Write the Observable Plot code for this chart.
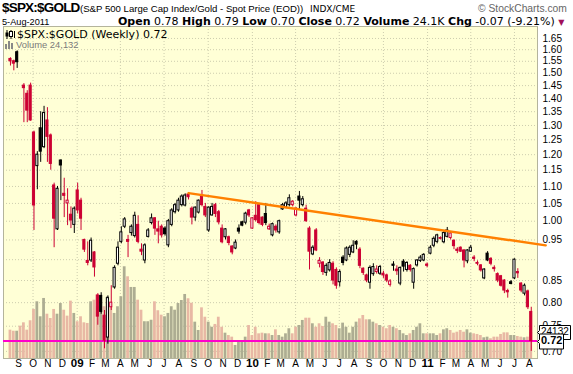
<!DOCTYPE html>
<html><head><meta charset="utf-8">
<script src="https://cdn.jsdelivr.net/npm/d3@7"></script>
<script src="https://cdn.jsdelivr.net/npm/@observablehq/plot@0.6"></script>
<style>
html,body{margin:0;padding:0;background:#fff;}
#wrap{position:relative;width:573px;height:374px;overflow:hidden;font-family:"Liberation Sans",Arial,sans-serif;color:#000;}
#wrap > svg{position:absolute;left:0;top:0;}
.t{position:absolute;white-space:nowrap;line-height:1;}
.dv{font-family:"DejaVu Sans",Verdana,sans-serif;}
</style></head>
<body><div id="wrap"></div>
<script>
// ---- data (weekly, first week ending 2008-08-15) ----
const startFriday = "2008-08-15";
const opens = [1.560,1.550,1.589,null,1.450,1.418,1.450,1.275,1.163,1.290,
1.225,1.318,1.265,1.103,0.978,1.181,1.078,1.050,1.018,0.990,
1.088,1.058,0.950,0.897,0.898,0.918,0.816,0.815,0.772,0.727,
0.790,0.834,0.890,0.945,0.985,0.950,0.968,0.960,0.990,0.925,
0.898,0.958,0.995,1.008,0.978,0.985,0.980,0.936,0.990,1.025,
1.030,1.045,1.044,1.076,1.035,1.010,1.024,1.070,1.040,0.975,
1.016,1.045,1.025,0.980,0.957,0.957,0.933,0.928,0.980,0.997,
0.996,1.030,0.980,1.015,1.045,1.010,1.020,0.978,0.962,0.985,
0.970,1.033,1.038,1.045,1.045,1.016,1.070,1.045,1.035,0.980,
0.913,0.975,0.890,0.893,0.868,0.874,0.890,0.875,0.846,0.905,
0.898,0.912,0.918,0.945,0.925,0.878,0.862,0.845,0.865,0.870,
0.866,0.866,0.862,0.840,0.888,0.876,0.843,0.895,0.875,0.885,
0.845,0.886,0.897,0.898,0.888,0.915,0.935,0.945,0.955,0.944,
0.958,0.955,0.948,0.925,0.930,0.923,0.896,0.920,0.905,0.892,
0.886,0.855,0.915,0.902,0.880,0.865,0.860,0.850,0.826,0.846,
0.855,0.870,0.843,0.820,0.825,0.780];
const highs = [1.565,1.555,1.595,null,1.458,1.430,1.460,1.280,1.210,1.350,
1.370,1.365,1.270,1.110,1.100,1.183,1.125,1.093,1.040,1.040,
1.110,1.065,0.952,0.945,0.955,0.920,0.820,0.822,0.783,0.815,
0.838,0.885,0.945,0.985,1.010,0.962,0.990,1.025,1.015,0.940,
0.940,0.980,1.020,1.010,1.000,0.990,0.985,1.005,1.035,1.050,
1.065,1.075,1.078,1.082,1.040,1.040,1.060,1.088,1.050,1.040,
1.050,1.050,1.030,0.990,0.980,0.960,0.935,0.950,0.990,1.000,
1.025,1.033,1.010,1.055,1.050,1.012,1.050,0.992,0.995,0.990,
1.003,1.050,1.055,1.075,1.058,1.038,1.085,1.070,1.045,0.985,
0.935,0.980,0.905,0.895,0.890,0.900,0.895,0.880,0.875,0.910,
0.932,0.935,0.948,0.948,0.930,0.880,0.865,0.885,0.890,0.885,
0.886,0.872,0.865,0.852,0.895,0.885,0.882,0.900,0.895,0.888,
0.880,0.900,0.910,0.915,0.892,0.935,0.958,0.965,0.958,0.972,
0.983,0.970,0.950,0.930,0.932,0.925,0.925,0.936,0.910,0.897,
0.888,0.878,0.920,0.905,0.885,0.868,0.862,0.852,0.830,0.850,
0.902,0.878,0.845,0.842,0.828,0.790];
const lows = [1.530,1.510,1.520,null,1.310,1.310,1.315,0.975,1.090,1.175,
1.220,1.175,1.150,0.930,0.975,1.058,1.010,0.988,0.980,0.967,
1.020,0.975,0.918,0.885,0.893,0.858,0.752,0.775,0.705,0.714,
0.783,0.830,0.885,0.940,0.980,0.905,0.960,0.955,0.940,0.910,
0.890,0.955,0.990,0.962,0.940,0.955,0.960,0.930,0.985,1.020,
1.025,1.040,1.040,1.060,0.990,1.000,1.020,1.040,1.010,0.970,
1.014,1.010,0.990,0.940,0.950,0.935,0.912,0.925,0.965,0.985,
0.990,1.010,0.978,0.998,0.990,0.985,0.988,0.975,0.958,0.968,
0.965,1.030,1.035,1.040,1.040,1.012,1.030,1.040,0.997,0.875,
0.910,0.920,0.880,0.862,0.860,0.870,0.840,0.830,0.835,0.885,
0.895,0.905,0.915,0.925,0.878,0.862,0.845,0.830,0.860,0.865,
0.862,0.855,0.845,0.835,0.872,0.862,0.838,0.870,0.870,0.870,
0.830,0.882,0.893,0.895,0.880,0.912,0.930,0.940,0.950,0.940,
0.955,0.950,0.925,0.915,0.918,0.880,0.890,0.918,0.895,0.885,
0.870,0.852,0.895,0.885,0.870,0.845,0.835,0.820,0.810,0.840,
0.852,0.855,0.822,0.815,0.785,0.700];
const closes = [1.550,1.540,1.546,null,1.440,1.354,1.318,1.044,1.200,1.210,
1.345,1.260,1.170,1.007,1.093,1.165,1.072,1.058,1.002,1.035,
1.030,1.007,0.925,0.892,0.948,0.881,0.770,0.780,0.721,0.810,
0.800,0.880,0.930,0.970,1.005,0.945,0.985,1.015,0.945,0.920,
0.936,0.975,1.008,0.980,0.972,0.962,0.965,1.000,1.030,1.045,
1.058,1.070,1.073,1.068,1.010,1.038,1.058,1.045,1.016,1.038,
1.040,1.020,0.997,0.944,0.978,0.942,0.918,0.943,0.972,0.988,
1.021,1.016,1.008,1.003,0.995,0.990,0.995,0.985,0.992,0.975,
1.000,1.045,1.050,1.065,1.055,1.035,1.058,1.062,1.000,0.920,
0.930,0.923,0.897,0.870,0.885,0.892,0.850,0.838,0.870,0.892,
0.928,0.930,0.935,0.938,0.885,0.868,0.850,0.880,0.882,0.876,
0.882,0.862,0.850,0.848,0.885,0.872,0.880,0.883,0.892,0.875,
0.877,0.898,0.905,0.912,0.885,0.930,0.953,0.962,0.953,0.968,
0.975,0.967,0.934,0.922,0.920,0.898,0.923,0.930,0.902,0.890,
0.874,0.876,0.898,0.890,0.877,0.850,0.838,0.827,0.823,0.842,
0.900,0.867,0.827,0.838,0.790,0.720];
const volumes = [26300,25300,25300,30000,33100,26300,35000,45500,52600,38700,
55700,41100,37100,45500,41100,51000,44800,39300,53200,41800,
34100,38700,33100,32500,52600,54100,48000,44800,48000,57300,
48000,41800,48000,57300,85100,75800,65900,65900,54100,44800,
34100,34100,35500,52600,44300,40200,38700,41800,48000,44800,
51000,53800,59400,55400,51300,33700,26000,47000,38300,33700,
29000,31600,38300,29000,23500,21300,19800,12100,16700,16700,
19800,30600,21300,29000,22900,23500,22900,22900,21300,26600,
21300,19800,22900,27600,22900,29000,30600,35300,37400,37400,
32200,29000,32200,29700,38300,33700,32200,30600,27600,32800,
29000,23500,29000,33700,36800,39900,35900,35900,33700,32200,
30600,29000,27600,30600,29000,27600,26000,22900,21300,22900,
26000,29000,32200,22900,22900,22900,22900,21300,22900,26600,
27600,26000,23500,24400,26000,24400,26600,23500,22900,22300,
21300,19200,19800,18300,19800,19800,22300,23800,23800,21300,
21300,20400,19800,19200,19800,24132];
const priceTicks = [0.70,0.75,0.80,0.85,0.90,0.95,1.00,1.05,1.10,1.15,1.20,1.25,1.30,1.35,1.40,1.45,1.50,1.55,1.60,1.65];
const monthLetters = ["J","F","M","A","M","J","J","A","S","O","N","D"];
const trendDates = ["2009-08-21","2011-09-04"];
const trendValues = [1.08, 0.936];
const lastClose = 0.72;
const lastVolume = 24132;

// ---- styles ----
const BG = "#ffffd6", GRID = "#cdcdae", RED = "#cc0033";
const UPVOL = "#adad92", DOWNVOL = "#e8b8a4";
const ORANGE = "#ff8000", MAGENTA = "#ff00cc";

const DAY = 864e5;
const t0 = Date.parse(startFriday + "T00:00:00Z");
const shift = (d, days) => new Date(+d + days * DAY);
let prevClose = null;
const rows = closes.map((c, i) => {
  const row = {date: new Date(t0 + 7 * i * DAY), open: opens[i], high: highs[i], low: lows[i], close: c, volume: volumes[i]};
  if (c == null) { row.down = true; return row; }
  const ref = prevClose == null ? opens[i] : prevClose;
  row.down = c < ref;
  row.color = row.down ? RED : "#000";
  row.fill = c > opens[i] ? "#fff" : row.color;
  prevClose = c;
  return row;
});
const candles = rows.filter(r => r.close != null);
const trend = trendDates.map((d, i) => ({date: new Date(d + "T00:00:00Z"), value: trendValues[i]}));

const X0 = new Date(Date.UTC(2008, 6, 31, 12)), X1 = new Date(Date.UTC(2011, 7, 18));
const months = d3.utcMonth.range(new Date(Date.UTC(2008, 8, 1)), new Date(Date.UTC(2011, 8, 1)));
const quarters = months.filter(d => d.getUTCMonth() % 3 === 0);

const base = {
  width: 573, height: 374, marginTop: 26, marginBottom: 16, marginLeft: 3, marginRight: 36,
  x: {type: "utc", domain: [X0, X1], axis: null},
  color: {type: "identity"},
  style: {background: "transparent", overflow: "visible", fontFamily: "Liberation Sans, Arial, sans-serif", fontSize: "10px", color: "#000"}
};
const priceY = {type: "log", domain: [0.6865, 1.705]};

const plotA = Plot.plot({
  ...base, y: priceY,
  marks: [
    Plot.frame({fill: BG}),
    Plot.ruleY(priceTicks, {stroke: GRID, strokeDasharray: "1,2"}),
    Plot.ruleX(quarters, {x: d => d, stroke: GRID, strokeDasharray: "1,2"}),
    Plot.axisY(priceTicks, {anchor: "right", tickSize: 0, tickPadding: 5, tickFormat: d => d.toFixed(2), fontSize: 10}),
    Plot.text(months.filter(d => d.getUTCMonth() !== 0), {x: d => d, text: d => monthLetters[d.getUTCMonth()], frameAnchor: "bottom", dy: 8, fontSize: 10}),
    Plot.text(months.filter(d => d.getUTCMonth() === 0), {x: d => d, text: d => String(d.getUTCFullYear()).slice(2), frameAnchor: "bottom", dy: 8, fontSize: 11.5, fontWeight: "bold"}),
    Plot.frame({stroke: "#b4b49c"})
  ]
});

const plotB = Plot.plot({
  ...base, y: {domain: [0, 308000], axis: null},
  marks: [
    Plot.rect(rows, {x1: d => shift(d.date, -3.5), x2: d => shift(d.date, 3.5), y1: 0, y2: "volume",
      fill: d => d.down ? DOWNVOL : UPVOL, insetLeft: 0.3, insetRight: 0.3}),
    Plot.tip([lastVolume], {y: d => d, frameAnchor: "right", anchor: "left", title: d => String(d),
      fill: "white", stroke: "black", pathFilter: "none", pointerSize: 4, textPadding: 1.5, fontSize: 10, lineHeight: 1})
  ]
});

const plotC = Plot.plot({
  ...base, y: {...priceY, axis: null},
  marks: [
    Plot.ruleY([lastClose], {stroke: MAGENTA, strokeWidth: 2}),
    Plot.ruleX(candles, {x: "date", y1: "low", y2: "high", stroke: "color", strokeWidth: 1}),
    Plot.rect(candles, {x1: d => shift(d.date, -2.2), x2: d => shift(d.date, 2.2), y1: "open", y2: "close",
      fill: "fill", stroke: "color", strokeWidth: 1}),
    Plot.line(trend, {x: "date", y: "value", stroke: ORANGE, strokeWidth: 2.5}),
    Plot.tip([lastClose], {y: d => d, frameAnchor: "right", anchor: "left", title: d => d.toFixed(2),
      fill: "white", stroke: "black", pathFilter: "none", pointerSize: 4, textPadding: 1.5, fontSize: 11, fontWeight: "bold", lineHeight: 1})
  ]
});

const wrap = document.getElementById("wrap");
wrap.append(plotA, plotB, plotC);

const candleIcon = '<svg width="11" height="9" viewBox="0 0 11 9" style="vertical-align:0"><line x1="2" y1="0" x2="2" y2="9" stroke="#000"/><rect x="0.5" y="2.5" width="3" height="4" fill="#000"/><line x1="6" y1="0" x2="6" y2="9" stroke="#000"/><rect x="4.5" y="1.5" width="3" height="5" fill="#fff" stroke="#000"/><line x1="9.5" y1="1" x2="9.5" y2="8" stroke="#000"/></svg>';
const volIcon = '<svg width="10" height="8" viewBox="0 0 10 8"><rect x="0" y="3" width="2" height="5" fill="#888"/><rect x="3" y="0" width="2" height="8" fill="#888"/><rect x="6" y="2" width="2" height="6" fill="#888"/></svg>';

const texts = [
  ['left:2px;top:1.3px;font-size:13.5px;font-weight:bold;letter-spacing:-0.8px', '$SPX:$GOLD'],
  ['left:80px;top:4.2px;font-size:9.6px', '(S&amp;P 500 Large Cap Index/Gold - Spot Price (EOD))'],
  ['left:310px;top:4.7px;font-size:9px;font-family:\'DejaVu Sans\'', 'INDX/CME'],
  ['left:478px;top:3.8px;font-size:10.3px;color:#666', '&copy; StockCharts.com'],
  ['left:2px;top:17.5px;font-size:9.2px', '5-Aug-2011'],
  ['left:118px;top:16.2px;font-size:11px;font-family:\'DejaVu Sans\'', '<b>Open</b> 0.78 <b>High</b> 0.79 <b>Low</b> 0.70 <b>Close</b> 0.72 <b>Volume</b> 24.1K <b>Chg</b> -0.07 (-9.21%) <span style="color:#a0105a;font-size:8px">&#9660;</span>'],
  ['left:5px;top:30px;font-size:11px', candleIcon],
  ['left:17px;top:29px;font-size:11px;font-family:\'DejaVu Sans\'', '$SPX:$GOLD (Weekly) 0.72'],
  ['left:5px;top:41px;font-size:9px', volIcon],
  ['left:16px;top:40.3px;font-size:9.4px;color:#7a7a7a', 'Volume 24,132']
];
for (const [style, html] of texts) {
  const el = document.createElement("div");
  el.className = "t";
  el.setAttribute("style", style);
  el.innerHTML = html;
  wrap.append(el);
}
</script>
</body></html>
